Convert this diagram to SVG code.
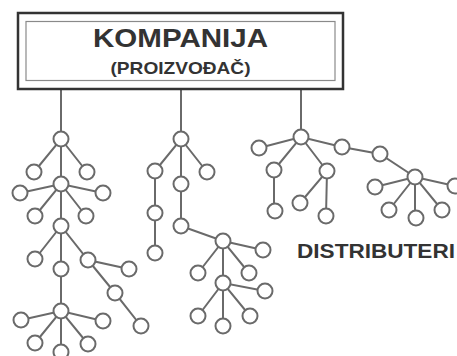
<svg xmlns="http://www.w3.org/2000/svg" width="457" height="356" viewBox="0 0 457 356">
<style>
.e{stroke:#6a6a6a;stroke-width:2;fill:none}
.n{fill:#fff;stroke:#6a6a6a;stroke-width:2}
.t{font-family:"Liberation Sans",Arial,sans-serif;font-weight:bold;fill:#333}
</style>
<rect width="457" height="356" fill="#fff"/>
<g id="connectors">
<path class="e" d="M61,89V139M34,172L61,139L87,172M61,139V184M20,193L61,184L103,193M35,216L61,184L86,216M61,184V226M35,259L61,226L88,260L129,269M61,226V269M88,260L115,293L141,326M61,269V311M21,320L61,311L103,321M35,343L61,311L88,344M61,311V352"/>
<path class="e" d="M181,89V139M155,171L181,139L207,172M181,139V184M155,171V253M181,184V226L223,241L263,250M198,273L223,241L249,273M223,241V283L265,291M198,316L223,283L250,316M223,283V326"/>
<path class="e" d="M301,89V137M259,148L301,137L342,147L380,154L415,177M274,170L301,137L327,171M274,170V211M300,203L327,171L326,216M375,187L415,177L455,186M389,210L415,177L442,210M415,177V218"/>
</g>
<g id="kompanija">
<rect x="18" y="13" width="325" height="76" fill="#fff" stroke="#333" stroke-width="2.5"/>
<rect x="26" y="21.5" width="309" height="59" fill="none" stroke="#8a8a8a" stroke-width="1.2"/>
<text class="t" x="180.5" y="47" font-size="26" text-anchor="middle" textLength="175" lengthAdjust="spacingAndGlyphs">KOMPANIJA</text>
<text class="t" x="180.5" y="74" font-size="17" text-anchor="middle" textLength="140" lengthAdjust="spacingAndGlyphs">(PROIZVOĐAČ)</text>
</g>
<g id="a1"><circle class="n" cx="61" cy="139" r="7.5"/></g>
<g id="a2"><circle class="n" cx="34" cy="172" r="7.5"/></g>
<g id="a3"><circle class="n" cx="87" cy="172" r="7.5"/></g>
<g id="a4"><circle class="n" cx="61" cy="184" r="7.5"/></g>
<g id="a5"><circle class="n" cx="20" cy="193" r="7.5"/></g>
<g id="a6"><circle class="n" cx="103" cy="193" r="7.5"/></g>
<g id="a7"><circle class="n" cx="35" cy="216" r="7.5"/></g>
<g id="a8"><circle class="n" cx="86" cy="216" r="7.5"/></g>
<g id="a9"><circle class="n" cx="61" cy="226" r="7.5"/></g>
<g id="a10"><circle class="n" cx="35" cy="259" r="7.5"/></g>
<g id="a11"><circle class="n" cx="61" cy="269" r="7.5"/></g>
<g id="a12"><circle class="n" cx="88" cy="260" r="7.5"/></g>
<g id="a13"><circle class="n" cx="129" cy="269" r="7.5"/></g>
<g id="a14"><circle class="n" cx="115" cy="293" r="7.5"/></g>
<g id="a15"><circle class="n" cx="141" cy="326" r="7.5"/></g>
<g id="a16"><circle class="n" cx="61" cy="311" r="7.5"/></g>
<g id="a17"><circle class="n" cx="21" cy="320" r="7.5"/></g>
<g id="a18"><circle class="n" cx="103" cy="321" r="7.5"/></g>
<g id="a19"><circle class="n" cx="35" cy="343" r="7.5"/></g>
<g id="a20"><circle class="n" cx="88" cy="344" r="7.5"/></g>
<g id="a21"><circle class="n" cx="61" cy="352" r="7.5"/></g>
<g id="b1"><circle class="n" cx="181" cy="139" r="7.5"/></g>
<g id="b2"><circle class="n" cx="155" cy="171" r="7.5"/></g>
<g id="b3"><circle class="n" cx="207" cy="172" r="7.5"/></g>
<g id="b4"><circle class="n" cx="181" cy="184" r="7.5"/></g>
<g id="b5"><circle class="n" cx="155" cy="213" r="7.5"/></g>
<g id="b6"><circle class="n" cx="155" cy="253" r="7.5"/></g>
<g id="b7"><circle class="n" cx="181" cy="226" r="7.5"/></g>
<g id="b8"><circle class="n" cx="223" cy="241" r="7.5"/></g>
<g id="b9"><circle class="n" cx="263" cy="250" r="7.5"/></g>
<g id="b10"><circle class="n" cx="198" cy="273" r="7.5"/></g>
<g id="b11"><circle class="n" cx="249" cy="273" r="7.5"/></g>
<g id="b12"><circle class="n" cx="223" cy="283" r="7.5"/></g>
<g id="b13"><circle class="n" cx="265" cy="291" r="7.5"/></g>
<g id="b14"><circle class="n" cx="198" cy="316" r="7.5"/></g>
<g id="b15"><circle class="n" cx="250" cy="316" r="7.5"/></g>
<g id="b16"><circle class="n" cx="223" cy="326" r="7.5"/></g>
<g id="c1"><circle class="n" cx="301" cy="137" r="7.5"/></g>
<g id="c2"><circle class="n" cx="259" cy="148" r="7.5"/></g>
<g id="c3"><circle class="n" cx="274" cy="170" r="7.5"/></g>
<g id="c4"><circle class="n" cx="327" cy="171" r="7.5"/></g>
<g id="c5"><circle class="n" cx="342" cy="147" r="7.5"/></g>
<g id="c6"><circle class="n" cx="275" cy="211" r="7.5"/></g>
<g id="c7"><circle class="n" cx="300" cy="203" r="7.5"/></g>
<g id="c8"><circle class="n" cx="326" cy="216" r="7.5"/></g>
<g id="c9"><circle class="n" cx="380" cy="154" r="7.5"/></g>
<g id="c10"><circle class="n" cx="415" cy="177" r="7.5"/></g>
<g id="c11"><circle class="n" cx="375" cy="187" r="7.5"/></g>
<g id="c12"><circle class="n" cx="455" cy="186" r="7.5"/></g>
<g id="c13"><circle class="n" cx="389" cy="210" r="7.5"/></g>
<g id="c14"><circle class="n" cx="442" cy="210" r="7.5"/></g>
<g id="c15"><circle class="n" cx="416" cy="218" r="7.5"/></g>
<g id="distributeri">
<text class="t" x="297" y="258" font-size="20" textLength="158" lengthAdjust="spacingAndGlyphs">DISTRIBUTERI</text>
</g>
</svg>
